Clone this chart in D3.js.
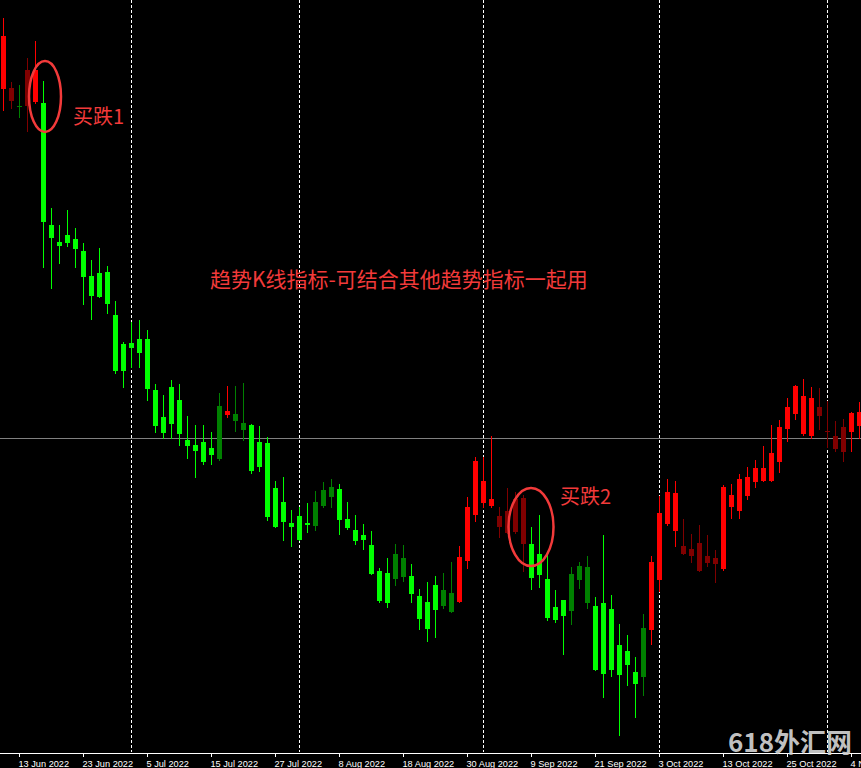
<!DOCTYPE html>
<html><head><meta charset="utf-8">
<script src="https://cdn.jsdelivr.net/npm/d3@7"></script>
<style>html,body{margin:0;padding:0;background:#000;overflow:hidden}</style>
</head><body>
<svg id="c" width="861" height="768"></svg>
<script>
// ---- data (daily candles, 9 Jun 2022 .. 7 Nov 2022; price units of the chart) ----
const openV = [711,711.7,693.5,730,698.3,696.7,575,558,565,561,
  549,524.3,527,528,485,456,457,461,461,410,
  383,413,400,360,355,358,352,341,385,379.3,
  370.3,375,358,357,312,298,277,284,277,274.3,
  294,303.3,311,281,270,265,255,229,227,221,
  223,224,204,198,215,194,188.3,198.3,239.3,285,
  297.3,294.3,284,289.3,301.3,302,256,246,221,193,
  200,189,220,197.3,194,197,191,155,149,128,
  123,170,220,276,269,254,251,257,244,242,
  231,293.3,289.3,304.3,318.3,319.3,319.3,338.3,371.3,386.3,
  366.3,364.3,393,369,364,373,368.3,374.3];
const highV = [782.3,718.3,715,742.3,759.3,719,592,575,590,571.7,
  556.7,540,552,534,499,458,478,480,470,416,
  405,420,416,384,375,375,368,407.3,414,414,
  417,376,374,363,319,323,290,293,297,309,
  318,321,316,298,285,276,269,232,242,256,
  255,236,211,218,224,227,238,254,303,343,
  343,364,293,312,308,305,273,285,245,210,
  200,233,238,244,203,265,205,176,165,143,
  186,244,304,321,319,281,266,275,265,250,
  315,316,326,333,340,354,375,380,402,415,
  421,413,412,399,379,381,388,398];
const lowV = [690,691.7,683.3,669.3,696.7,533.3,512.3,537.3,554,533.3,
  496,481,503,486.7,427.3,413.3,433.3,433.3,400,368.3,
  361.7,361.7,355,342.3,323.3,336.3,336.3,340,383.3,369.3,
  360,327.3,329,280.3,273.3,260.3,254.3,260,268.3,270,
  292.7,293.3,266,270.7,256,251.3,226.3,198,193,215,
  219,198,171,159,163.3,192,188.3,198.3,232.3,279.3,
  293.3,293.3,263,267,267,229,211.3,213.3,180,178,
  146,176,212.3,192.3,130,103.3,124,65,115,83.3,
  105,156,209,275,254,246,238,229,234,218,
  230,282.3,282.3,301.3,313.3,319.3,319.3,328.3,359.3,381.3,
  365.3,362.3,371.3,353.3,349.3,339.3,349.3,362];
const closeV = [764.3,699,694,694,730,578.3,562.3,554.3,557.3,551.3,
  523.3,504.3,503.3,496.3,429.3,429.3,452.3,447.3,411,374,
  367.3,376.3,366.3,354.3,349.3,338.3,345.3,394,389,386,
  377,329.3,333.3,283.3,273.3,278.3,273.3,260.3,275.3,298,
  310,313,280.3,272.3,259.3,260.3,226.3,199,197,246,
  242,206,181,171,190,210,207,243,293,339,
  319,301,273,267.3,268.3,256.3,222.3,225,182,180,
  184,226,234,233,130,126,130,125,135,116,
  172,238,287,308,307,246,244,229,237,236,
  313.3,305,321,323,332,332,347,373,393,414,
  404,402,384.3,368,351.3,348.3,387,388];
// trend state of each candle: U = up-trend rising, u = up-trend pullback,
// D = down-trend falling, d = down-trend pullback
const trendV = ("UuduU" + "DDDDDDDDDDDDDDDDDDDDDD" + "dUdd" + "DDDDDDDD" + "ddd" + "DDDDDDD" +
  "dd" + "DDDD" + "dd" + "UUUUU" + "uuuu" + "DDDDD" + "ddd" + "DDDDDD" + "d" + "UUUU" +
  "uuuuu" + "UUUUUUUUUUUU" + "uuuu" + "UU").split("");
const tickDates = ["2022-06-13","2022-06-23","2022-07-05","2022-07-15","2022-07-27","2022-08-08",
  "2022-08-18","2022-08-30","2022-09-09","2022-09-21","2022-10-03","2022-10-13","2022-10-25","2022-11-04"];
const periodSeparators = ["2022-07-01","2022-08-01","2022-09-01","2022-10-03","2022-11-01"];
const horizontalLevel = 362;
const mainNote = "趋势K线指标-可结合其他趋势指标一起用";
const signalNotes = ["买跌1", "买跌2"];
const watermark = "618外汇网";

// ---- chart ----
const W = 861, H = 768, axisY = 753;
const parse = d3.utcParse("%Y-%m-%d");
const days = d3.utcDays(parse("2022-06-09"), parse("2022-11-08")).filter(d => d.getUTCDay() % 6 !== 0);
const data = days.map((d, i) => ({date: d, o: openV[i], h: highV[i], l: lowV[i], c: closeV[i], t: trendV[i]}));

const x = d3.scaleBand().domain(days.map(d => +d)).range([-0.5, 863.5]).padding(0);
const y = d3.scaleLinear().domain([32, 800]).range([768, 0]);
const cx = d => x(+d) + x.bandwidth() / 2;
const colors = {U: "#ff0000", u: "#800000", D: "#00ff00", d: "#008000"};

const svg = d3.select("#c");
svg.append("rect").attr("width", W).attr("height", H).attr("fill", "#000");

const g = svg.append("g").attr("shape-rendering", "crispEdges");

// horizontal level line (behind the candles)
g.append("line").attr("x1", 0).attr("x2", W)
  .attr("y1", Math.round(y(horizontalLevel)) + 0.5).attr("y2", Math.round(y(horizontalLevel)) + 0.5)
  .attr("stroke", "#808080").attr("stroke-width", 1);

// period separators (behind the candles)
g.selectAll("line.sep").data(periodSeparators.map(parse)).join("line").attr("class", "sep")
  .attr("x1", d => cx(d)).attr("x2", d => cx(d)).attr("y1", 0).attr("y2", axisY - 1)
  .attr("stroke", "#ffffff").attr("stroke-width", 1).attr("stroke-dasharray", "3,2");

const cand = g.selectAll("g.k").data(data).join("g").attr("class", "k");
cand.append("line")
  .attr("x1", d => cx(d.date)).attr("x2", d => cx(d.date))
  .attr("y1", d => Math.round(y(d.h))).attr("y2", d => Math.round(y(d.l)) + 1)
  .attr("stroke", d => colors[d.t]).attr("stroke-width", 1);
cand.append("rect")
  .attr("x", d => cx(d.date) - 2.5).attr("width", 5)
  .attr("y", d => Math.round(y(Math.max(d.o, d.c))))
  .attr("height", d => Math.max(1, Math.round(y(Math.min(d.o, d.c))) - Math.round(y(Math.max(d.o, d.c)))))
  .attr("fill", d => colors[d.t]);

// bottom axis
const axis = d3.axisBottom(x).tickValues(tickDates.map(s => +parse(s)))
  .tickFormat(v => d3.utcFormat("%-d %b %Y")(new Date(v))).tickSize(4).tickSizeOuter(0);
const ag = svg.append("g").attr("transform", `translate(0,${axisY})`).call(axis);
ag.select(".domain").attr("stroke", "#fff");
ag.selectAll(".tick line").attr("stroke", "#fff");
ag.selectAll(".tick text").attr("fill", "#fff").attr("text-anchor", "start").attr("x", -1)
  .attr("font-family", "'Liberation Sans', Arial, sans-serif").attr("font-size", "9.2px");

// annotations
const red = "#f23a3a";
const cjk = "'Noto Sans CJK SC', 'Noto Sans', sans-serif";
const s1 = data[5], s2 = data[65];
svg.append("ellipse").attr("cx", cx(s1.date) + 1.5).attr("cy", 96.5)
  .attr("rx", 16).attr("ry", 35.5).attr("fill", "none").attr("stroke", red).attr("stroke-width", 2.5);
svg.append("ellipse").attr("cx", cx(s2.date) + 7.5).attr("cy", 527)
  .attr("rx", 22.5).attr("ry", 39).attr("fill", "none").attr("stroke", red).attr("stroke-width", 2.5);
svg.append("text").attr("x", 73).attr("y", 124).text(signalNotes[0])
  .attr("fill", red).attr("font-family", cjk).attr("font-size", "20px");
svg.append("text").attr("x", 560).attr("y", 504).text(signalNotes[1])
  .attr("fill", red).attr("font-family", cjk).attr("font-size", "20px");
svg.append("text").attr("x", 210).attr("y", 287).text(mainNote)
  .attr("fill", red).attr("font-family", cjk).attr("font-size", "21px");

// watermark
svg.append("text").attr("x", 728).attr("y", 752).text(watermark)
  .attr("fill", "#d4d4d4").attr("fill-opacity", 0.92).attr("font-family", cjk)
  .attr("font-weight", "bold").attr("font-size", "26px");
</script>
</body></html>
